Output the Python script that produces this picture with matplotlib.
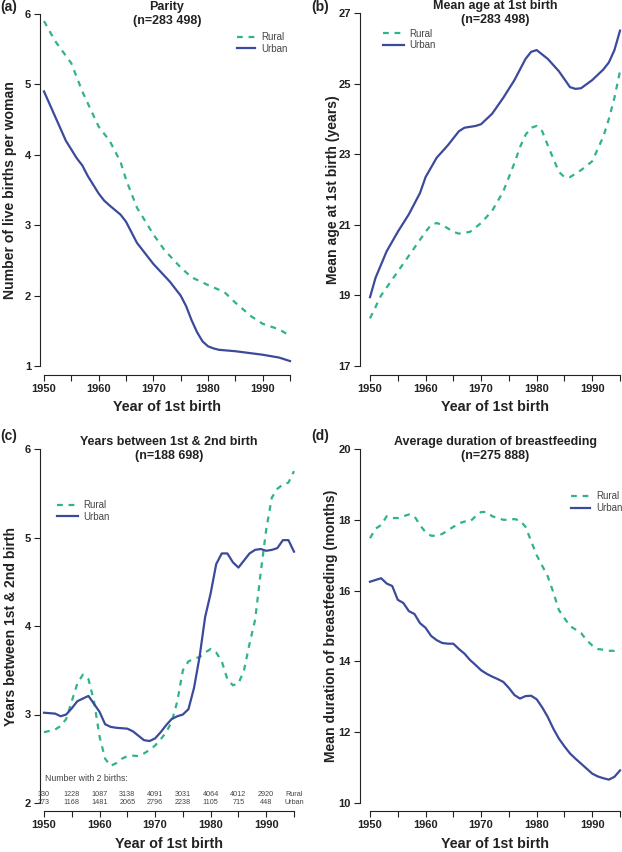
import matplotlib
matplotlib.use("Agg")
import matplotlib.pyplot as plt

plt.rcParams['font.family'] = ['Liberation Sans', 'DejaVu Sans']

RURAL_C = "#2fb38a"
URBAN_C = "#3b4a9b"

# (a) Parity
par_rural_yr = [1950, 1952, 1955, 1957, 1960, 1962, 1964, 1965, 1967, 1970,
                1972, 1975, 1977, 1980, 1983, 1985, 1988, 1990, 1993, 1995]
par_rural = [5.9, 5.62, 5.3, 4.9, 4.4, 4.2, 3.9, 3.65, 3.25, 2.87,
             2.65, 2.4, 2.26, 2.15, 2.05, 1.9, 1.7, 1.6, 1.52, 1.43]
par_urban_yr = [1950, 1952, 1954, 1956, 1957, 1958, 1960, 1961, 1962, 1964,
                1965, 1967, 1970, 1973, 1975, 1976, 1977, 1978, 1979, 1980,
                1981, 1982, 1985, 1990, 1993, 1995]
par_urban = [4.9, 4.55, 4.2, 3.95, 3.85, 3.7, 3.45, 3.35, 3.28, 3.15,
             3.05, 2.75, 2.45, 2.2, 2.0, 1.85, 1.65, 1.48, 1.35, 1.28,
             1.25, 1.23, 1.21, 1.16, 1.12, 1.07]

# (b) Mean age at 1st birth
age_urban_yr = [1950, 1951, 1953, 1955, 1957, 1959, 1960, 1962, 1964, 1966,
                1967, 1969, 1970, 1972, 1974, 1976, 1978, 1979, 1980, 1982,
                1984, 1986, 1987, 1988, 1990, 1992, 1993, 1994, 1995]
age_urban = [18.95, 19.5, 20.25, 20.8, 21.3, 21.9, 22.35, 22.9, 23.25, 23.65,
             23.75, 23.8, 23.85, 24.15, 24.6, 25.1, 25.7, 25.9, 25.95, 25.7,
             25.35, 24.9, 24.85, 24.87, 25.1, 25.4, 25.6, 25.95, 26.5]
age_rural_yr = [1950, 1952, 1954, 1956, 1958, 1960, 1961, 1962, 1963, 1965,
                1966, 1968, 1970, 1972, 1974, 1976, 1977, 1978, 1979, 1980,
                1981, 1982, 1984, 1985, 1986, 1988, 1990, 1992, 1993, 1994,
                1995]
age_rural = [18.35, 19.0, 19.45, 19.9, 20.35, 20.8, 21.0, 21.05, 21.0, 20.8,
             20.75, 20.8, 21.05, 21.4, 21.95, 22.75, 23.2, 23.55, 23.75, 23.8,
             23.65, 23.25, 22.5, 22.35, 22.35, 22.55, 22.8, 23.5, 24.0, 24.6,
             25.35]

# (c) Years between 1st & 2nd birth
gap_yr = list(range(1950, 1996))
gap_urban = [3.02, 3.015, 3.01, 2.98, 3.0, 3.07, 3.15, 3.18, 3.21, 3.12,
             3.03, 2.89, 2.86, 2.85, 2.845, 2.84, 2.81, 2.76, 2.71, 2.70,
             2.73, 2.8, 2.88, 2.95, 2.98, 3.0, 3.06, 3.3, 3.65, 4.1,
             4.37, 4.7, 4.82, 4.82, 4.72, 4.66, 4.74, 4.82, 4.86, 4.87,
             4.85, 4.86, 4.88, 4.97, 4.97, 4.84]
gap_rural = [2.8, 2.815, 2.83, 2.87, 2.95, 3.15, 3.35, 3.45, 3.4, 3.15,
             2.75, 2.5, 2.42, 2.45, 2.5, 2.53, 2.535, 2.53, 2.56, 2.6,
             2.65, 2.72, 2.8, 2.92, 3.15, 3.5, 3.6, 3.63, 3.65, 3.7,
             3.74, 3.7, 3.6, 3.4, 3.33, 3.35, 3.5, 3.8, 4.07, 4.6,
             5.09, 5.45, 5.55, 5.6, 5.62, 5.75]
count_years = [1950, 1955, 1960, 1965, 1970, 1975, 1980, 1985, 1990, 1995]
count_rural = ["330", "1228", "1087", "3138", "4091", "3031", "4064", "4012", "2920", "Rural"]
count_urban = ["273", "1168", "1481", "2065", "2796", "2238", "1105", "715", "448", "Urban"]

# (d) Average duration of breastfeeding
bf_yr = list(range(1950, 1996))
bf_rural = [17.48, 17.75, 17.85, 18.1, 18.05, 18.05, 18.1, 18.15, 18.1, 17.85,
            17.65, 17.55, 17.55, 17.6, 17.7, 17.8, 17.9, 17.95, 17.95, 18.1,
            18.22, 18.22, 18.1, 18.05, 18.0, 18.0, 18.02, 17.98, 17.8, 17.4,
            17.0, 16.7, 16.4, 15.95, 15.45, 15.22, 15.0, 14.9, 14.8, 14.6,
            14.45, 14.35, 14.33, 14.3, 14.3, 14.37]
bf_urban = [16.25, 16.3, 16.35, 16.2, 16.13, 15.74, 15.65, 15.42, 15.34, 15.08,
            14.95, 14.72, 14.6, 14.52, 14.5, 14.5, 14.35, 14.22, 14.04, 13.9,
            13.75, 13.65, 13.57, 13.5, 13.42, 13.25, 13.05, 12.95, 13.02, 13.03,
            12.93, 12.7, 12.43, 12.1, 11.82, 11.6, 11.4, 11.25, 11.11, 10.97,
            10.83, 10.75, 10.7, 10.66, 10.74, 10.92]

W, H = 622, 852
fig = plt.figure(figsize=(W / 100, H / 100), dpi=100)
DARK = "#222222"


def make_ax(left, top, right, bottom):
    return fig.add_axes([left / W, 1 - bottom / H, (right - left) / W, (bottom - top) / H])


def style(ax, ylim, yticks, left_out, bottom_out, ylabel, ylab_x, xlab_y):
    ax.set_xlim(1950, 1995)
    ax.set_ylim(*ylim)
    for s in ("top", "right"):
        ax.spines[s].set_visible(False)
    ax.spines["left"].set_position(("outward", left_out * 0.72))
    ax.spines["bottom"].set_position(("outward", bottom_out * 0.72))
    ax.spines["left"].set_bounds(ylim[0], ylim[1])
    ax.spines["bottom"].set_bounds(1950, 1995)
    for s in ("left", "bottom"):
        ax.spines[s].set_linewidth(0.8)
        ax.spines[s].set_color(DARK)
    ax.set_yticks(yticks)
    ax.set_xticks(range(1950, 1996, 5))
    ax.set_xticklabels([str(y) if y % 10 == 0 else "" for y in range(1950, 1996, 5)])
    ax.tick_params(direction="out", length=4, width=0.8, color=DARK,
                   labelsize=8, pad=2.5)
    for lab in ax.get_xticklabels() + ax.get_yticklabels():
        lab.set_fontweight("bold")
        lab.set_color(DARK)
    ax.set_xlabel("Year of 1st birth", fontsize=10.3, fontweight="bold", color=DARK)
    ax.xaxis.set_label_coords(0.5, xlab_y)
    ax.xaxis.label.set_va("center")
    ax.set_ylabel(ylabel, fontsize=10.1, fontweight="bold", color=DARK)
    ax.yaxis.set_label_coords(ylab_x, 0.5)


def add_title(ax, text, tag, tag_x, tag_y):
    ax.text(0.5, 1.0, text, transform=ax.transAxes, ha="center", va="center",
            fontsize=9, fontweight="bold", color=DARK, linespacing=1.25)
    fig.text(tag_x / W, 1 - tag_y / H, tag, ha="left", va="center",
             fontsize=10, fontweight="bold", color=DARK)


def add_lines(ax, xr, yr, xu, yu, loc, anchor, hl):
    ax.plot(xr, yr, color=RURAL_C, lw=1.6, dashes=(2.6, 2.6), label="Rural", clip_on=False)
    ax.plot(xu, yu, color=URBAN_C, lw=1.6, label="Urban", clip_on=False)
    leg = ax.legend(loc=loc, bbox_to_anchor=anchor, frameon=False, fontsize=7,
                    handlelength=hl, handletextpad=0.6, labelspacing=0.15,
                    borderaxespad=0, borderpad=0)
    for t in leg.get_texts():
        t.set_color("#444444")


# (a)
ax_a = make_ax(44, 14, 290, 366)
style(ax_a, (1, 6), range(1, 7), 4, 9, "Number of live births per woman", -0.11, -0.117)
add_lines(ax_a, par_rural_yr, par_rural, par_urban_yr, par_urban,
          "upper right", (0.99, 0.948), 1.9)
add_title(ax_a, "Parity\n(n=283 498)", "(a)", 0, 7)

# (b)
ax_b = make_ax(370, 13, 620, 366)
style(ax_b, (17, 27), range(17, 28, 2), 10, 9, "Mean age at 1st birth (years)", -0.122, -0.117)
add_lines(ax_b, age_rural_yr, age_rural, age_urban_yr, age_urban,
          "upper left", (0.05, 0.955), 2.2)
add_title(ax_b, "Mean age at 1st birth\n(n=283 498)", "(b)", 311, 7)

# (c)
ax_c = make_ax(44, 449, 294, 803)
style(ax_c, (2, 6), range(2, 7), 4, 8, "Years between 1st & 2nd birth", -0.104, -0.117)
add_lines(ax_c, gap_yr, gap_rural, gap_yr, gap_urban,
          "upper left", (0.05, 0.855), 2.2)
add_title(ax_c, "Years between 1st & 2nd birth\n(n=188 698)", "(c)", 0, 436)
ax_c.text(1950.2, 2.28, "Number with 2 births:", fontsize=6.3, color="#444444",
          ha="left", va="center")
for yr, r, u in zip(count_years, count_rural, count_urban):
    ax_c.text(yr, 2.095, r, fontsize=5.2, color="#444444", ha="center", va="center")
    ax_c.text(yr, 2.0, u, fontsize=5.2, color="#444444", ha="center", va="center")

# (d)
ax_d = make_ax(370, 449, 620, 803)
style(ax_d, (10, 20), range(10, 21, 2), 10, 8, "Mean duration of breastfeeding (months)", -0.128, -0.117)
add_lines(ax_d, bf_yr, bf_rural, bf_yr, bf_urban,
          "upper right", (1.01, 0.88), 2.0)
add_title(ax_d, "Average duration of breastfeeding\n(n=275 888)", "(d)", 311, 436)

fig.savefig("out.png", dpi=100)
